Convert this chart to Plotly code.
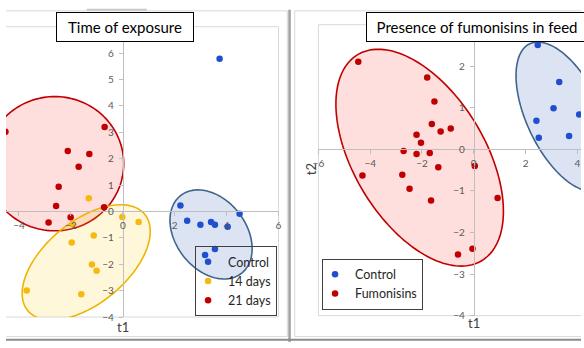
import numpy as np
import plotly.graph_objects as go

W, H = 584, 348

# ---------------- data: left panel "Time of exposure" ----------------
ctrl_t1_L = [3.73, 2.22, 2.48, 2.99, 3.40, 3.55, 4.04, 4.50, 3.55, 3.17]
ctrl_t2_L = [5.79, 0.23, -0.35, -0.50, -0.40, -0.50, -0.58, -0.09, -1.42, -1.65]
d14_t1 = [-1.31, -0.02, 0.61, -1.94, -1.12, -1.97, -1.19, -1.01, -3.70, -1.60]
d14_t2 = [0.50, -0.21, -0.40, -0.48, -0.91, -1.18, -2.01, -2.25, -2.99, -3.14]
d21_t1 = [-4.52, -0.70, -2.12, -1.29, -1.70, -2.47, -2.57, -0.72, -2.01, -2.86]
d21_t2 = [3.02, 3.20, 2.29, 2.18, 1.69, 0.94, 0.21, 0.16, -0.22, -0.42]

# ---------------- data: right panel "Presence of fumonisins in feed" ----------------
ctrl_t1_R = [2.47, 3.30, 3.08, 4.07, 2.42, 2.51, 3.68]
ctrl_t2_R = [2.51, 1.62, 0.99, 0.84, 0.69, 0.28, 0.32]
fum_t1 = [-4.46, -1.80, -1.52, -1.62, -0.89, -1.28, -2.21, -2.04, -2.71, -2.21,
          -1.70, -1.37, 0.04, -4.30, -2.76, -2.48, -1.65, 0.92, -0.05, -0.61]
fum_t2 = [2.11, 1.73, 1.15, 0.61, 0.50, 0.43, 0.35, 0.16, -0.04, -0.11,
          -0.09, -0.43, -0.40, -0.63, -0.61, -0.95, -1.23, -1.17, -2.39, -2.53]

# tick labels
xt_L = [-4, -2, 0, 2, 4, 6]
yt_L = [-4, -3, -2, -1, 0, 1, 2, 3, 4, 5, 6]
xt_R = [-6, -4, -2, 0, 2, 4]
yt_R = [-4, -3, -2, -1, 0, 1, 2]

# confidence ellipses: centre (data), semi axes (px), screen angle (deg, clockwise)
ell_L = [  # (cx, cy, a, b, angle, line, fill)
    (-2.62, 1.81, 70, 68.3, 0, "#c00000", "rgba(255,0,0,0.13)"),
    (-1.41, -1.93, 77, 41.8, -39.6, "#f0b400", "rgba(255,200,0,0.15)"),
    (3.40, -0.87, 50.2, 35.7, 52.3, "#41648c", "rgba(68,114,196,0.19)"),
]
ell_R = [
    (-2.09, -0.20, 122.3, 66.7, 59, "#c00000", "rgba(255,0,0,0.13)"),
    (3.50, 0.79, 82, 38, 64.6, "#41648c", "rgba(68,114,196,0.19)"),
]

BLUE, GOLD, RED = "#1f4fcf", "#f5b90f", "#c00000"

# ---------------- layout geometry ----------------
Lx_dom = [0, 276.8 / W]; Lx_rng = [-4.5, 6]
Ly_dom = [1 - 322.6 / H, 1 - 27.2 / H]; Ly_rng = [-4, 7]
Rx_dom = [317.3 / W, 1]; Rx_rng = [-6, -6 + (W - 317.3) / 26.3]
Ry_dom = [1 - 321.2 / H, 1 - 25.1 / H]; Ry_rng = [-4, 3]


def zero_pos(dom, rng):
    return dom[0] + (0 - rng[0]) / (rng[1] - rng[0]) * (dom[1] - dom[0])


def scale(dom, rng, size):
    return (dom[1] - dom[0]) * size / (rng[1] - rng[0])


def ellipse_path(cx, cy, a, b, ang, sx, sy, n=160):
    t = np.linspace(0, 2 * np.pi, n, endpoint=False)
    p = np.radians(ang)
    dx = a * np.cos(t) * np.cos(p) - b * np.sin(t) * np.sin(p)
    dy = a * np.cos(t) * np.sin(p) + b * np.sin(t) * np.cos(p)
    xs = cx + dx / sx
    ys = cy - dy / sy
    return "M " + " L ".join(f"{x:.4f},{y:.4f}" for x, y in zip(xs, ys)) + " Z"


fig = go.Figure()
mk = dict(size=6.5, line=dict(width=0))
fig.add_trace(go.Scatter(x=ctrl_t1_L, y=ctrl_t2_L, mode="markers", name="Control",
                         marker=dict(color=BLUE, **mk), xaxis="x", yaxis="y", legend="legend"))
fig.add_trace(go.Scatter(x=d14_t1, y=d14_t2, mode="markers", name="14 days",
                         marker=dict(color=GOLD, **mk), xaxis="x", yaxis="y", legend="legend"))
fig.add_trace(go.Scatter(x=d21_t1, y=d21_t2, mode="markers", name="21 days",
                         marker=dict(color=RED, **mk), xaxis="x", yaxis="y", legend="legend"))
fig.add_trace(go.Scatter(x=ctrl_t1_R, y=ctrl_t2_R, mode="markers", name="Control",
                         marker=dict(color=BLUE, **mk), xaxis="x2", yaxis="y2", legend="legend2"))
fig.add_trace(go.Scatter(x=fum_t1, y=fum_t2, mode="markers", name="Fumonisins",
                         marker=dict(color=RED, **mk), xaxis="x2", yaxis="y2", legend="legend2"))

shapes = []
sxL, syL = scale(Lx_dom, Lx_rng, W), scale(Ly_dom, Ly_rng, H)
sxR, syR = scale(Rx_dom, Rx_rng, W), scale(Ry_dom, Ry_rng, H)
for (cx, cy, a, b, ang, lc, fc) in ell_L:
    shapes.append(dict(type="path", xref="x", yref="y", path=ellipse_path(cx, cy, a, b, ang, sxL, syL),
                       line=dict(color=lc, width=1.6), fillcolor=fc, layer="below"))
for (cx, cy, a, b, ang, lc, fc) in ell_R:
    shapes.append(dict(type="path", xref="x2", yref="y2", path=ellipse_path(cx, cy, a, b, ang, sxR, syR),
                       line=dict(color=lc, width=1.6), fillcolor=fc, layer="below"))

GRID = "#d9d9d9"
# plot-area borders
for xr, yr, segs in [("x domain", "y domain", [(0, 1, 1, 1), (1, 0, 1, 1), (0, 0, 1, 0)]),
                     ("x2 domain", "y2 domain", [(0, 1, 1, 1), (0, 0, 0, 1), (0, 0, 1, 0)])]:
    for x0, y0, x1, y1 in segs:
        shapes.append(dict(type="line", xref=xr, yref=yr, x0=x0, y0=y0, x1=x1, y1=y1,
                           line=dict(color=GRID, width=1), layer="below"))


def pline(x0, y0, x1, y1, color, width):
    shapes.append(dict(type="line", xref="paper", yref="paper", x0=x0 / W, y0=1 - y0 / H,
                       x1=x1 / W, y1=1 - y1 / H, line=dict(color=color, width=width)))


# chart-area frames
pline(0, 11, 285.7, 11, GRID, 1)
pline(285.7, 11, 285.7, 342.5, GRID, 1)
pline(0, 342.5, 285.7, 342.5, GRID, 1)
pline(293.3, 11, 584, 11, GRID, 1)
pline(293.3, 11, 293.3, 342.5, GRID, 1)
pline(293.3, 342.5, 584, 342.5, GRID, 1)
pline(288, 10, 288, 348, "#a0a0a0", 2.5)
pline(0, 345.7, 584, 345.7, "#8c8c8c", 2)
pline(82, 10, 143, 10, "#c8c8c8", 2)

axis_common = dict(showgrid=False, zeroline=False, showline=True, linecolor="#bfbfbf", linewidth=1,
                   ticks="outside", ticklen=4, tickcolor="#bfbfbf",
                   tickfont=dict(family="Lato", size=10, color="#595959"),
                   anchor="free", fixedrange=True)

fig.update_layout(
    width=W, height=H, margin=dict(l=0, r=0, t=0, b=0), autosize=False,
    paper_bgcolor="white", plot_bgcolor="rgba(0,0,0,0)",
    font=dict(family="Lato", color="#262626"),
    xaxis=dict(domain=Lx_dom, range=Lx_rng, tickvals=xt_L, position=zero_pos(Ly_dom, Ly_rng),
               ticklabelstandoff=1, **axis_common),
    yaxis=dict(domain=Ly_dom, range=Ly_rng, tickvals=yt_L, position=zero_pos(Lx_dom, Lx_rng),
               ticklabelstandoff=3, **axis_common),
    xaxis2=dict(domain=Rx_dom, range=Rx_rng, tickvals=xt_R, position=zero_pos(Ry_dom, Ry_rng),
                ticklabelstandoff=1, **axis_common),
    yaxis2=dict(domain=Ry_dom, range=Ry_rng, tickvals=yt_R, position=zero_pos(Rx_dom, Rx_rng),
                ticklabelstandoff=3, **axis_common),
    legend=dict(x=275.3 / W, y=1 - 321.7 / H, xanchor="right", yanchor="bottom",
                bgcolor="rgba(0,0,0,0)", bordercolor="#404040", borderwidth=1,
                font=dict(family="Lato", size=12.5, color="#262626"), indentation=-8,
                itemclick=False, itemdoubleclick=False),
    legend2=dict(x=321 / W, y=1 - 315 / H, xanchor="left", yanchor="bottom",
                 bgcolor="rgba(0,0,0,0)", bordercolor="#404040", borderwidth=1,
                 font=dict(family="Lato", size=12.5, color="#262626"), indentation=-8,
                 itemclick=False, itemdoubleclick=False),
    shapes=shapes,
    annotations=[
        dict(text="Time of exposure", xref="paper", yref="paper", x=120.5 / W, y=1 - 27.8 / H,
             xanchor="center", yanchor="middle", showarrow=False, width=136, height=28,
             borderpad=0, bordercolor="#000000", borderwidth=1, bgcolor="white",
             font=dict(family="Lato", size=15, color="#000000")),
        dict(text="Presence of fumonisins in feed", xref="paper", yref="paper", x=366 / W, y=1 - 27 / H,
             xanchor="left", yanchor="middle", showarrow=False, width=220, height=28,
             borderpad=0, bordercolor="#000000", borderwidth=1, bgcolor="white",
             font=dict(family="Lato", size=15, color="#000000")),
        dict(text="t1", xref="x", yref="paper", x=0, y=1 - 332.3 / H, xanchor="center", yanchor="middle",
             showarrow=False, font=dict(family="Lato", size=13, color="#404040")),
        dict(text="t1", xref="x2", yref="paper", x=0, y=1 - 329 / H, xanchor="center", yanchor="middle",
             showarrow=False, font=dict(family="Lato", size=13, color="#404040")),
        dict(text="t2", xref="paper", yref="paper", x=310 / W, y=1 - 172 / H, xanchor="center",
             yanchor="middle", textangle=-90, showarrow=False,
             font=dict(family="Lato", size=13, color="#404040")),
    ],
)

fig.write_html("out.html")
